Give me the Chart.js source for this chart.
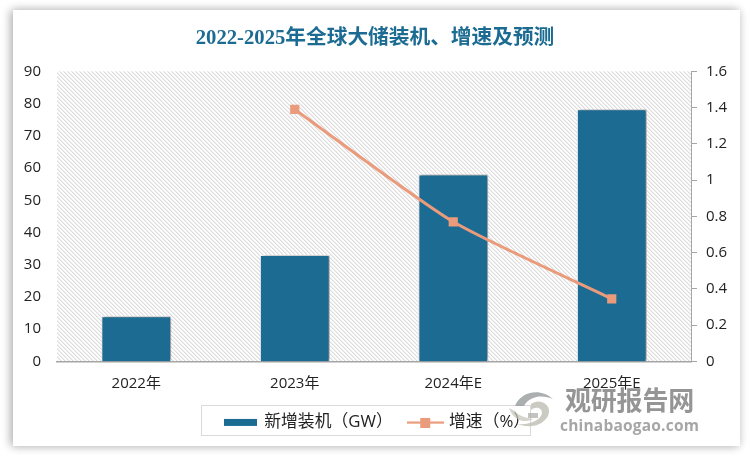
<!DOCTYPE html>
<html><head><meta charset="utf-8">
<style>
html,body{margin:0;padding:0;background:#fff;width:750px;height:455px;overflow:hidden}
#card{position:absolute;left:13px;top:10px;width:727px;height:436px;background:#fff;box-shadow:-3px 0 9px rgba(0,0,0,.22),0 0 9px rgba(0,0,0,.16)}
#wrap{position:absolute;left:0;top:0;width:750px;height:455px}
#wm1{position:absolute;left:565px;top:381px;font:bold 26px "Noto Sans CJK SC";letter-spacing:-.2px;color:rgba(130,130,130,.85);line-height:36px;white-space:nowrap}
#wm2{position:absolute;left:560px;top:415px;font:bold 15.5px "Open Sans";letter-spacing:.2px;color:rgba(150,150,150,.85);line-height:20px;white-space:nowrap}
#logo{position:absolute;left:508px;top:386px}
</style></head>
<body>
<div id="card"></div>
<div id="wrap"><canvas id="c" width="750" height="455"></canvas></div>
<svg id="logo" width="54" height="48" viewBox="0 0 54 48" fill="none">
<path d="M7 20C12 6 32 1 45 13C36 9 22 9 16 20Z" fill="rgba(150,155,155,.8)"/>
<path d="M23 18C30 12 42 17 41 26C40 37 24 44 10 38C22 39 33 34 34 27C34 22 28 20 23 24Z" fill="rgba(190,190,180,.8)"/>
<path d="M1 22C5 34 16 38 25 33C18 32 11 30 7 25Z" fill="rgba(195,195,185,.7)"/>
<path d="M20 27h10v5h-10z" fill="rgba(170,170,165,.7)"/>
</svg>
<div id="wm1">观研报告网</div>
<div id="wm2">chinabaogao.com</div>
<script src="https://cdn.jsdelivr.net/npm/chart.js@4"></script>
<script>
const titleText = "2022-2025年全球大储装机、增速及预测";
const categories = ["2022年", "2023年", "2024年E", "2025年E"];
const barName = "新增装机（GW）";
const lineName = "增速（%）";
const installed = [14, 33, 58, 78.2];
const growth = [null, 1.39, 0.77, 0.345];
const barColor = "#1B6B93";
const lineColor = "#E99B7B";
const uiFont = '"Open Sans","Noto Sans CJK SC",sans-serif';

function makeCanvas(w, h, draw) {
  const cv = document.createElement("canvas");
  cv.width = w; cv.height = h;
  draw(cv.getContext("2d"));
  return cv;
}
const barSwatch = makeCanvas(33, 9, g => {
  g.fillStyle = barColor; g.fillRect(0, 1, 33, 7);
});
const lineSwatch = makeCanvas(37, 11, g => {
  g.fillStyle = lineColor; g.fillRect(0, 4.5, 37, 2.2); g.fillRect(13, 1, 10, 10);
});
const hatchTile = makeCanvas(4, 4, g => {
  g.fillStyle = "#fdfdfd"; g.fillRect(0, 0, 4, 4);
  for (let i = 0; i < 4; i++) {
    g.fillStyle = "#dcdcdc"; g.fillRect(i, i, 1, 1);
    g.fillStyle = "#eeeeee"; g.fillRect((i + 1) % 4, i, 1, 1);
  }
});

const stage = {
  id: "stage",
  beforeDraw(chart) {
    const { ctx, chartArea: a } = chart;
    ctx.save();
    ctx.fillStyle = ctx.createPattern(hatchTile, "repeat");
    ctx.fillRect(a.left, a.top, a.right - a.left, a.bottom - a.top);
    ctx.restore();
  },
  afterLayout(chart) {
    const l = chart.legend;
    const h = l.bottom - l.top;
    l.left += 3; l.right += 3;
    l.top = 396; l.bottom = 396 + h;
  },
  beforeDatasetDraw(chart, args) {
    if (args.index === 0) {
      const c = chart.ctx;
      c.save();
      c.shadowColor = "rgba(0,0,0,.45)";
      c.shadowBlur = 4; c.shadowOffsetX = 2; c.shadowOffsetY = 0;
    }
  },
  afterDatasetDraw(chart, args) {
    if (args.index === 0) chart.ctx.restore();
  },
  afterDraw(chart) {
    const c = chart.ctx;
    c.save();
    c.strokeStyle = "#dadada"; c.lineWidth = 1;
    c.strokeRect(201.5, 405.5, 329, 30);
    c.restore();
  }
};

new Chart(document.getElementById("c"), {
  data: {
    labels: categories,
    datasets: [
      { type: "bar", label: barName, data: installed, yAxisID: "y", order: 2,
        backgroundColor: barColor, borderColor: "#ffffff", borderWidth: 1,
        barPercentage: 0.44, categoryPercentage: 1 },
      { type: "line", label: lineName, data: growth, yAxisID: "y1", order: 1,
        borderColor: lineColor, borderWidth: 3, tension: 0.2, spanGaps: false,
        pointStyle: "rect", pointRadius: 6.5, pointBackgroundColor: lineColor, pointBorderColor: lineColor, pointBorderWidth: 0 }
    ]
  },
  options: {
    responsive: false, animation: false,
    layout: { padding: 0 },
    plugins: {
      tooltip: { enabled: false },
      title: {
        display: true, text: titleText, color: barColor,
        font: { family: '"Liberation Serif","Noto Sans CJK SC",serif', size: 20.7, weight: "bold", lineHeight: 1.2 },
        padding: { top: 26.5, bottom: 20 }
      },
      legend: {
        display: true, position: "bottom",
        labels: {
          usePointStyle: true, pointStyleWidth: 30, boxHeight: 14, padding: 18,
          color: "#222", font: { family: uiFont, size: 16.8 },
          generateLabels: () => [
            { text: barName, pointStyle: barSwatch, fontColor: "#222", datasetIndex: 0 },
            { text: lineName, pointStyle: lineSwatch, fontColor: "#222", datasetIndex: 1 }
          ]
        }
      }
    },
    scales: {
      x: {
        grid: { display: false },
        border: { display: true, color: "#a6a6a6", width: 1.5 },
        ticks: { color: "#222", font: { family: uiFont, size: 15 }, padding: 5, maxRotation: 0 },
        afterFit(s) { s.height = 93.6 - (s.chart.legend ? s.chart.legend.height : 48); }
      },
      y: {
        position: "left", min: 0, max: 90,
        grid: { display: false, drawTicks: false },
        border: { display: false },
        ticks: { stepSize: 10, color: "#222", font: { family: uiFont, size: 15 }, padding: 16 },
        afterFit(s) { s.width = 57; }
      },
      y1: {
        position: "right", min: 0, max: 1.6,
        grid: { drawOnChartArea: false, drawTicks: true, tickLength: 6, tickColor: "#a6a6a6" },
        border: { display: true, color: "#a6a6a6", width: 1 },
        ticks: { stepSize: 0.2, color: "#222", font: { family: uiFont, size: 15 }, padding: 9,
          callback: v => String(+v.toFixed(1)) },
        afterFit(s) { s.width = 59; }
      }
    }
  },
  plugins: [stage]
});
</script>
</body></html>
